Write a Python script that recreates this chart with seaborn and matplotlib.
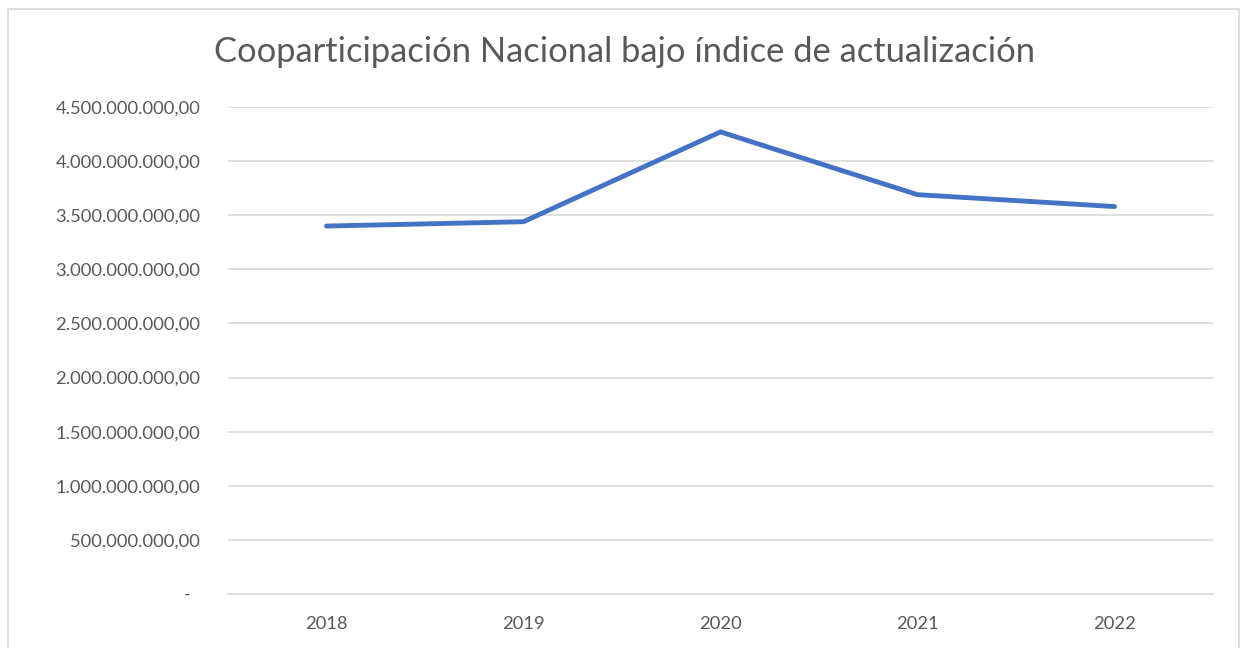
import matplotlib
matplotlib.use("Agg")
import matplotlib.pyplot as plt
import matplotlib.ticker as mticker
from matplotlib.patches import Rectangle
import seaborn as sns
import pandas as pd

years = ["2018", "2019", "2020", "2021", "2022"]
values = [3.40e9, 3.44e9, 4.27e9, 3.69e9, 3.58e9]
title = "Cooparticipación Nacional bajo índice de actualización"

sns.set_style("white")
plt.rcParams['font.family'] = ['Lato', 'DejaVu Sans']

df = pd.DataFrame({"year": years, "value": values})

fig = plt.figure(figsize=(12.43, 6.48), dpi=100)
ax = fig.add_axes([228/1243, 1-594/648, (1213-228)/1243, (594-107)/648])

sns.lineplot(data=df, x="year", y="value", ax=ax, color="#4472C4",
             linewidth=3.5, solid_capstyle="round", solid_joinstyle="miter",
             sort=False)

ax.set_xlim(-0.5, 4.5)
ax.set_ylim(0, 4.5e9)
ax.yaxis.set_major_locator(mticker.MultipleLocator(5e8))

def fmt(v, pos):
    if abs(v) < 1:
        return "-  "
    s = f"{v:,.2f}"
    return s.replace(",", "X").replace(".", ",").replace("X", ".")

ax.yaxis.set_major_formatter(mticker.FuncFormatter(fmt))
ax.grid(axis="y", color="#d9d9d9", linewidth=1.2)
ax.grid(axis="x", visible=False)
for s in ["top", "right", "left"]:
    ax.spines[s].set_visible(False)
ax.spines["bottom"].set_color("#d9d9d9")
ax.spines["bottom"].set_linewidth(1.2)
ax.tick_params(axis="y", length=0, pad=20, labelsize=13.2, labelcolor="#595959")
ax.tick_params(axis="x", length=0, pad=16, labelsize=13.2, labelcolor="#595959")
ax.set_xlabel("")
ax.set_ylabel("")

fig.text(625/1243, 1-52/648, title, ha="center", va="center",
         fontsize=24.8, color="#595959")

fig.patches.append(Rectangle((8/1243, -0.05), (1239-8)/1243, 1.05-9/648,
                             transform=fig.transFigure, fill=False,
                             edgecolor="#d9d9d9", linewidth=1.2))

fig.savefig("out.png", dpi=100, facecolor="white")
